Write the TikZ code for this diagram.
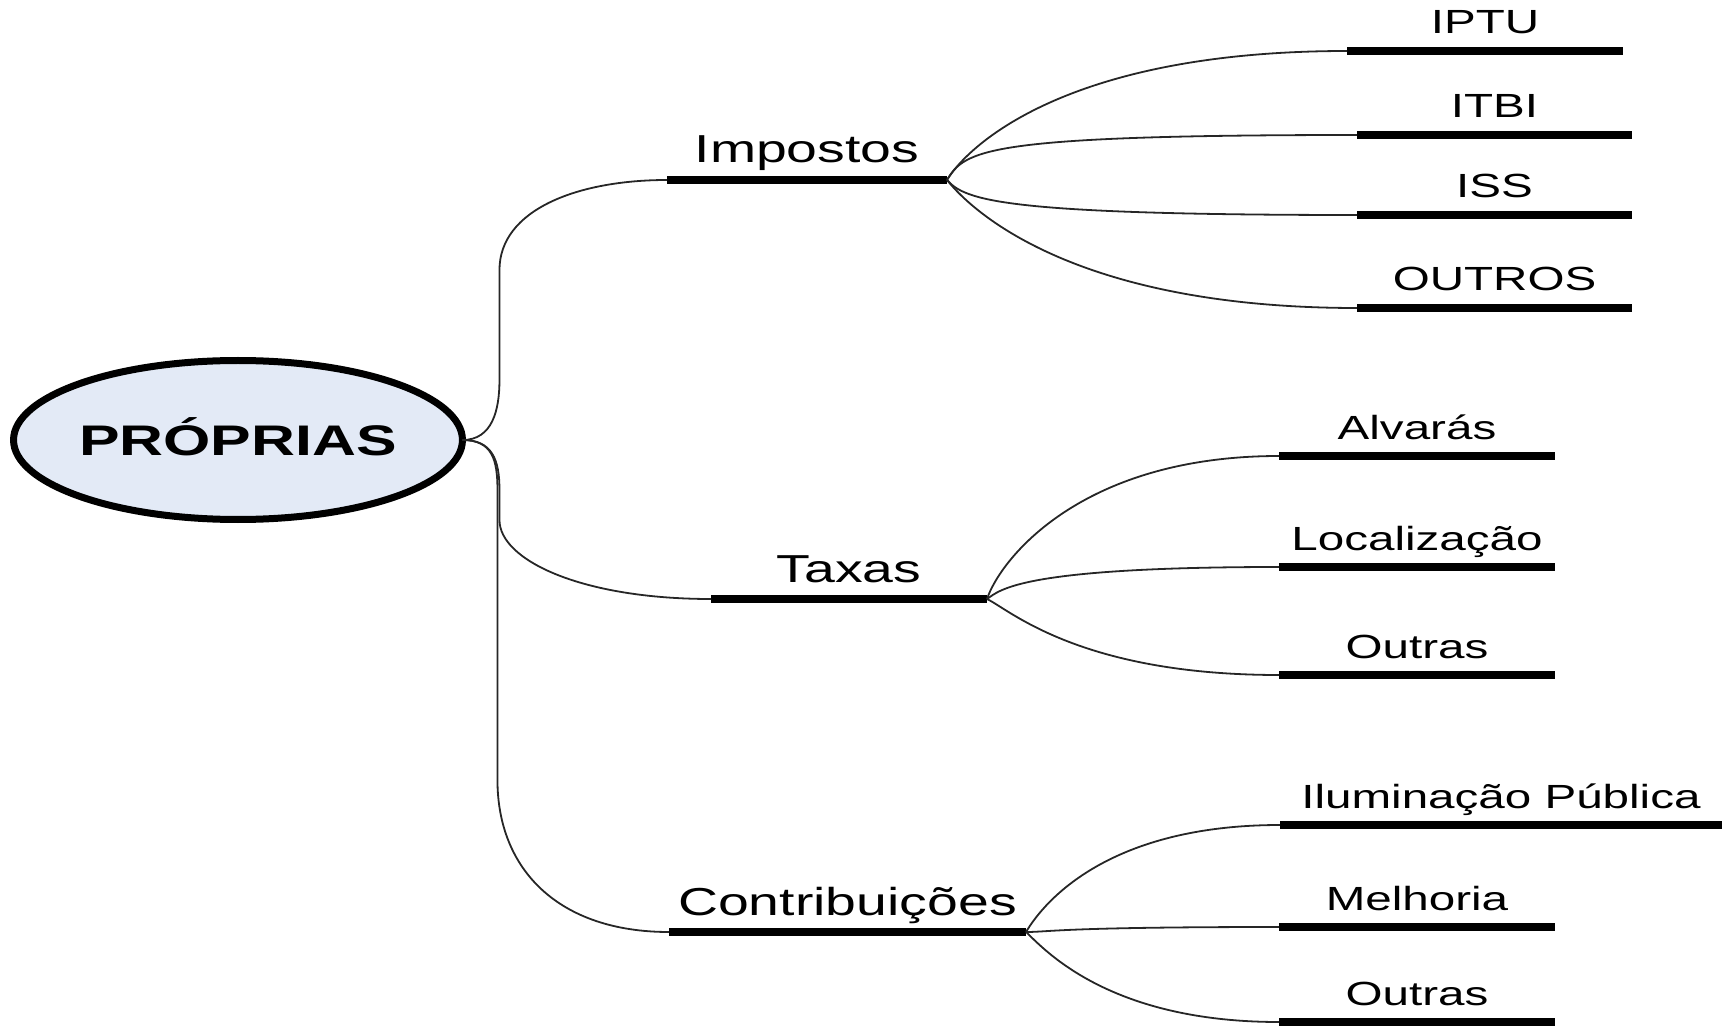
\documentclass[tikz,border=0pt]{standalone}
\usepackage{fontspec}
\setmainfont{Liberation Sans}[FakeStretch=1.42]
\usepackage{tikz}
\usetikzlibrary{shapes.geometric}

\definecolor{propfill}{RGB}{227,234,246}

\tikzset{
  raiz/.style={ellipse, draw=black, line width=3.5pt, fill=propfill,
    minimum width=222pt, minimum height=79.5pt, inner sep=0pt, outer sep=0pt,
    text height=15.2pt, text depth=0pt, font=\bfseries\fontsize{21.4}{25}\selectfont},
  barra/.style={line width=3.6pt, black},
  ramo/.style={anchor=south west, inner xsep=0pt, inner ysep=8.5pt, outer sep=0pt, text depth=0pt,
    append after command={(\tikzlastnode.south west) edge[barra] (\tikzlastnode.south east)}},
  grupo/.style={ramo, font=\fontsize{19.5}{23}\selectfont},
  folha/.style={ramo, font=\fontsize{16.75}{20}\selectfont, minimum width=138pt},
  liga/.style={line width=0.9pt, black!85},
}

\begin{document}
\begin{tikzpicture}[x=0.5pt, y=-0.5pt]
        \useasboundingbox (0,0) rectangle (1729,1026);

        \node[raiz] (root) at (238,440) {PRÓPRIAS};

        % segundo nivel
        \node[grupo, minimum width=140pt] (imp) at (667,180) {Impostos};
        \node[grupo, minimum width=138pt] (tax) at (711,599) {Taxas};
        \node[grupo, minimum width=178.5pt] (con) at (669,932) {Contribuições};

        % folhas
        \node[folha] (iptu) at (1347,51) {IPTU};
        \node[folha, minimum width=137.5pt] (itbi) at (1357,135) {ITBI};
        \node[folha, minimum width=137.5pt] (iss) at (1357,215) {ISS};
        \node[folha, minimum width=137.5pt] (outros) at (1357,308) {OUTROS};

        \node[folha] (alv) at (1279,456) {Alvarás};
        \node[folha] (loc) at (1279,567) {Localização};
        \node[folha] (outtax) at (1279,675) {Outras};

        \node[folha, minimum width=221pt] (ilum) at (1280,825) {Iluminação Pública};
        \node[folha] (melh) at (1279,927) {Melhoria};
        \node[folha] (outcon) at (1279,1022) {Outras};

        % ligacoes da raiz
        \draw[liga] (root.east) .. controls +(30,0) and +(0,30) .. ++(37,-60) -- ++(0,-110)
                .. controls +(0,-60) and +(-90,0) .. (imp.south west);
        \draw[liga] (root.east) .. controls +(30,0) and +(0,-30) .. ++(37,50) -- ++(0,30)
                .. controls +(0,40) and +(-130,0) .. (tax.south west);
        \draw[liga] (root.east) .. controls +(30,0) and +(0,-30) .. ++(35,50) -- ++(0,290)
                .. controls +(0,90) and +(-110,0) .. (con.south west);

        % impostos
        \draw[liga] (imp.south east) .. controls +(18,-30) and +(-287,0) .. (iptu.south west);
        \draw[liga] (imp.south east) .. controls +(18,-30) and +(-372,0) .. (itbi.south west);
        \draw[liga] (imp.south east) .. controls +(18,20) and +(-357,0) .. (iss.south west);
        \draw[liga] (imp.south east) .. controls +(28,35) and +(-277,0) .. (outros.south west);

        % taxas
        \draw[liga] (tax.south east) .. controls +(13,-39) and +(-199,0) .. (alv.south west);
        \draw[liga] (tax.south east) .. controls +(13,-9) and +(-259,0) .. (loc.south west);
        \draw[liga] (tax.south east) .. controls +(23,11) and +(-199,0) .. (outtax.south west);

        % contribuicoes
        \draw[liga] (con.south east) .. controls +(19,-32) and +(-170,0) .. (ilum.south west);
        \draw[liga] (con.south east) .. controls +(24,0) and +(-220,0) .. (melh.south west);
        \draw[liga] (con.south east) .. controls +(19,18) and +(-170,0) .. (outcon.south west);

\end{tikzpicture}
\end{document}
